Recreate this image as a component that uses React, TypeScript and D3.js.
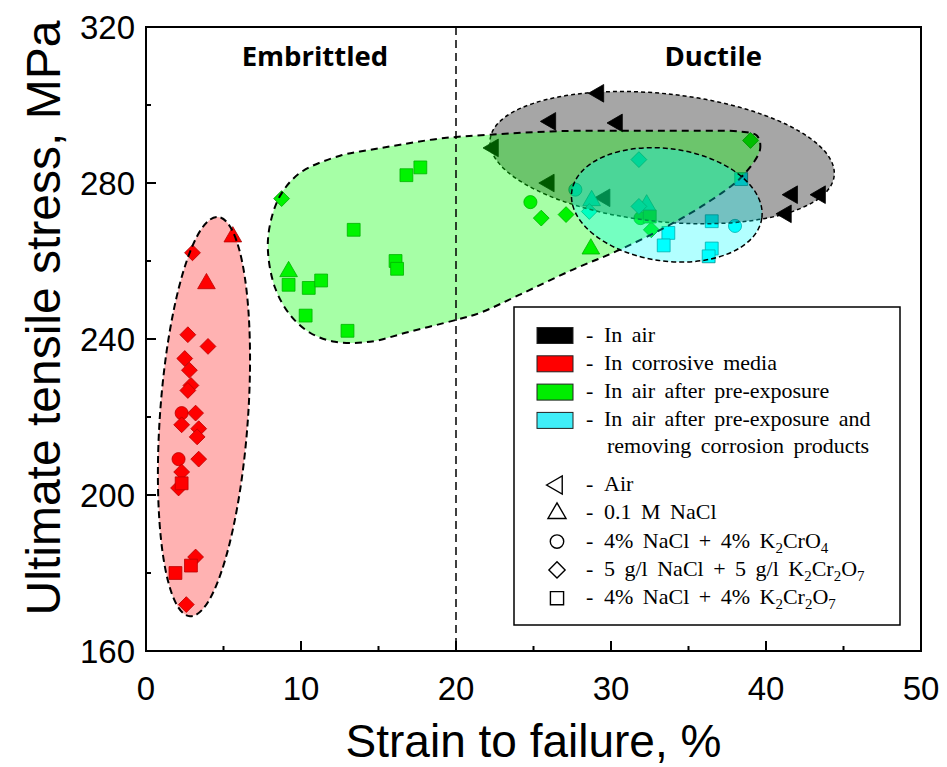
import * as d3 from 'd3';

const xTicks = [0, 10, 20, 30, 40, 50];
const yTicks = [160, 200, 240, 280, 320];

// [strain %, UTS MPa]
// In air (black)
const airAir = [
  [29.2, 303], [26.1, 295.8], [30.4, 295.4], [22.4, 289], [26.0, 280],
  [29.6, 276.2], [41.7, 277], [43.5, 277], [41.3, 272.1],
];

// In corrosive media (red)
const corrNaCl = [[5.6, 266.2], [3.9, 254.2]];
const corrCrO4 = [[2.3, 221], [2.1, 209.2]];
const corrCr2O7g = [
  [3.0, 262.1], [2.7, 241.1], [4.0, 238.1], [2.5, 235], [2.8, 232], [2.9, 228.1],
  [2.7, 226.8], [3.2, 221], [2.3, 218], [3.4, 217], [3.3, 214.9], [3.4, 209.2],
  [2.3, 205.9], [2.1, 201.8], [3.2, 184.1], [2.6, 171.9],
];
const corrCr2O7 = [[2.3, 203], [2.9, 181.9], [1.9, 180]];

// In air after pre-exposure (green)
const preNaCl = [[9.2, 257.3], [28.7, 263.1]];
const preCrO4 = [[24.8, 275.1], [31.9, 271]];
const preCr2O7g = [[8.75, 276], [25.5, 271], [27.1, 271.9], [32.6, 268], [39.0, 290.9]];
const preCr2O7 = [
  [16.8, 282], [17.7, 284], [13.4, 268], [16.1, 260], [16.2, 258], [9.2, 253.9],
  [10.5, 253.1], [11.3, 255], [10.3, 246], [13.0, 242.1], [32.5, 271.4],
];

// After removing corrosion products (cyan)
const remNaCl = [[28.75, 275.5], [32.3, 274.4]];
const remCrO4 = [[27.7, 278.3], [38.0, 269]];
const remCr2O7g = [[28.6, 272.7], [31.8, 286], [31.8, 274]];
const remCr2O7 = [[38.4, 281], [36.5, 270.2], [33.7, 267.2], [33.4, 264], [36.5, 263.2], [36.3, 261.2]];

// outlined regions
const redZone = { cx: 3.74, cy: 220.1, rx: 2.84, ry: 51.3, rot: 4 };
const grayZone = { cx: 33.3, cy: 286.5, rx: 11.16, ry: 16.4, rot: 6 };
const cyanZone = { cx: 33.6, cy: 274.4, rx: 6.19, ry: 14.4, rot: 8 };
const greenZone = [
  [38.43, 281.6], [39.61, 288.5], [39.42, 292.1], [38.32, 293.2], [35.74, 293.4],
  [31.87, 293.4], [26.71, 293.3], [22.19, 292.4], [18.97, 291.4], [16.39, 289.8],
  [14.45, 288.5], [12.52, 287.0], [9.94, 282.6], [8.65, 276.7], [8.0, 269.3],
  [7.87, 262.4], [8.32, 253.2], [9.29, 246.2], [10.58, 241.6], [12.19, 239.3],
  [14.45, 239.3], [17.03, 241.9], [20.0, 244.9], [21.55, 246.7], [24.13, 251.4],
  [27.55, 257.8], [30.58, 262.9], [33.81, 269.3], [36.39, 275.4],
];

const stateLabels = ['In air', 'In corrosive media', 'In air after pre-exposure', 'In air after pre-exposure and'];
const stateColors = ['#000000', '#ff0000', '#00ee00', '#40eef8'];
const envLabels = ['Air', '0.1 M NaCl', '4% NaCl + 4% K_2CrO_4', '5 g/l NaCl + 5 g/l K_2Cr_2O_7', '4% NaCl + 4% K_2Cr_2O_7'];
const envShapes = ['left', 'up', 'circle', 'diamond', 'square'];

const margin = { top: 27, right: 26, bottom: 116, left: 146 };
const width = 947;
const height = 767;

function shapePath(shape: string, scale = 1) {
  if (shape === 'left' || shape === 'up') return d3.symbol(d3.symbolTriangle, 135 * scale)()!;
  if (shape === 'circle') return d3.symbol(d3.symbolCircle, 135 * scale)()!;
  if (shape === 'diamond') return d3.symbol(d3.symbolSquare, 125 * scale)()!;
  return d3.symbol(d3.symbolSquare, 165 * scale)()!;
}
function shapeRot(shape: string) {
  if (shape === 'left') return -90;
  if (shape === 'diamond') return 45;
  return 0;
}

function sub(s: string) {
  const parts = s.split(/_(\d)/);
  return parts.map((p, i) =>
    i % 2 ? (
      <tspan key={i} dy={5} fontSize={15}>{p}</tspan>
    ) : (
      <tspan key={i} dy={i > 0 ? -5 : 0}>{p}</tspan>
    )
  );
}

export default function App() {
  const x = d3.scaleLinear().domain([0, 50]).range([margin.left, width - margin.right]);
  const y = d3.scaleLinear().domain([160, 320]).range([height - margin.bottom, margin.top]);

  const series = [
    { pts: airAir, shape: 'left', fill: '#000', stroke: '#000' },
    { pts: corrNaCl, shape: 'up', fill: '#ff0000', stroke: '#a00000' },
    { pts: corrCrO4, shape: 'circle', fill: '#ff0000', stroke: '#a00000' },
    { pts: corrCr2O7g, shape: 'diamond', fill: '#ff0000', stroke: '#a00000' },
    { pts: corrCr2O7, shape: 'square', fill: '#ff0000', stroke: '#a00000' },
    { pts: preNaCl, shape: 'up', fill: '#00ee00', stroke: '#008a00' },
    { pts: preCrO4, shape: 'circle', fill: '#00ee00', stroke: '#008a00' },
    { pts: preCr2O7g, shape: 'diamond', fill: '#00ee00', stroke: '#008a00' },
    { pts: preCr2O7, shape: 'square', fill: '#00ee00', stroke: '#008a00' },
    { pts: remNaCl, shape: 'up', fill: '#00ffff', stroke: '#008b8b' },
    { pts: remCrO4, shape: 'circle', fill: '#00ffff', stroke: '#008b8b' },
    { pts: remCr2O7g, shape: 'diamond', fill: '#00ffff', stroke: '#008b8b' },
    { pts: remCr2O7, shape: 'square', fill: '#00ffff', stroke: '#008b8b' },
  ];

  const ellipse = (z: typeof redZone, fill: string, sw: number, dash: string) => {
    const cx = x(z.cx);
    const cy = y(z.cy);
    return (
      <ellipse
        cx={cx}
        cy={cy}
        rx={x(z.cx + z.rx) - cx}
        ry={cy - y(z.cy + z.ry)}
        transform={`rotate(${z.rot},${cx},${cy})`}
        fill={fill}
        stroke="#000"
        strokeWidth={sw}
        strokeDasharray={dash}
      />
    );
  };

  const blob = d3
    .line<number[]>()
    .x(d => x(d[0]))
    .y(d => y(d[1]))
    .curve(d3.curveCatmullRomClosed.alpha(0.5))(greenZone)!;

  const x0 = margin.left;
  const x1 = width - margin.right;
  const y0 = margin.top;
  const y1 = height - margin.bottom;

  // legend geometry
  const lg = { x: 514, y: 307, w: 386, h: 318 };

  return (
    <svg width={width} height={height} style={{ position: 'absolute', left: 0, top: 0 }}>
      <rect width={width} height={height} fill="#fff" />

      {/* markers */}
      {series.map((s, si) => (
        <g key={si}>
          {s.pts.map((p, i) => (
            <path
              key={i}
              d={shapePath(s.shape)}
              transform={`translate(${x(p[0])},${y(p[1])}) rotate(${shapeRot(s.shape)})`}
              fill={s.fill}
              stroke={s.stroke}
              strokeWidth={0.8}
            />
          ))}
        </g>
      ))}

      {/* regions */}
      {ellipse(redZone, 'rgba(255,0,0,0.3)', 2, '7,4')}
      {ellipse(grayZone, 'rgba(0,0,0,0.35)', 1.5, '4,3')}
      <path d={blob} fill="rgba(0,255,0,0.35)" stroke="#000" strokeWidth={2} strokeDasharray="7,5" />
      {ellipse(cyanZone, 'rgba(0,255,255,0.3)', 1.5, '5,3')}

      {/* divider */}
      <line x1={x(20)} x2={x(20)} y1={y0} y2={y1} stroke="#000" strokeWidth={1.5} strokeDasharray="8,5" />
      <text x={x(10.9)} y={66} textAnchor="middle" fontFamily="Open Sans" fontWeight="bold" fontSize={27.5}>Embrittled</text>
      <text x={x(36.6)} y={66} textAnchor="middle" fontFamily="Open Sans" fontWeight="bold" fontSize={27.5}>Ductile</text>

      {/* frame */}
      <rect x={x0} y={y0} width={x1 - x0} height={y1 - y0} fill="none" stroke="#000" strokeWidth={2} />

      {/* x axis */}
      {d3.range(0, 51, 5).map(t => (
        <line key={t} x1={x(t)} x2={x(t)} y1={y1} y2={y1 - (t % 10 === 0 ? 10 : 5)} stroke="#000" strokeWidth={2} />
      ))}
      {xTicks.map(t => (
        <text key={t} x={x(t)} y={700} textAnchor="middle" fontFamily="Liberation Sans, Arial" fontSize={33}>{t}</text>
      ))}
      <text x={(x0 + x1) / 2} y={757} textAnchor="middle" fontFamily="Liberation Sans, Arial" fontSize={46}>
        Strain to failure, %
      </text>

      {/* y axis */}
      {d3.range(160, 321, 20).map(t => (
        <line key={t} x1={x0} x2={x0 + (t % 40 === 0 ? 10 : 5)} y1={y(t)} y2={y(t)} stroke="#000" strokeWidth={2} />
      ))}
      {yTicks.map(t => (
        <text key={t} x={135} y={y(t)} dy="0.36em" textAnchor="end" fontFamily="Liberation Sans, Arial" fontSize={33}>{t}</text>
      ))}
      <text
        transform={`translate(60,318) rotate(-90)`}
        textAnchor="middle"
        fontFamily="Liberation Sans, Arial"
        fontSize={48}
      >
        Ultimate tensile stress, MPa
      </text>

      {/* legend */}
      <rect x={lg.x} y={lg.y} width={lg.w} height={lg.h} fill="#fff" stroke="#000" strokeWidth={1.5} />
      <g fontFamily="Liberation Serif, Times New Roman" fontSize={22} wordSpacing={4}>
        {stateLabels.map((l, i) => {
          const cy = 335.5 + i * 28.3;
          return (
            <g key={l}>
              <rect x={537} y={cy - 8} width={36} height={16} fill={stateColors[i]} stroke="#222" strokeWidth={1} />
              <text x={586} y={cy + 6}>-</text>
              <text x={604} y={cy + 6}>{l}</text>
            </g>
          );
        })}
        <text x={607} y={335.5 + 4 * 28.3 + 4}>removing corrosion products</text>
        {envLabels.map((l, i) => {
          const cy = 485 + i * 28.3;
          const sh = envShapes[i];
          return (
            <g key={l}>
              <path
                d={shapePath(sh, 1.05)}
                transform={`translate(557,${cy}) rotate(${shapeRot(sh)})`}
                fill="none"
                stroke="#000"
                strokeWidth={1.4}
              />
              <text x={586} y={cy + 6}>-</text>
              <text x={604} y={cy + 6}>{sub(l)}</text>
            </g>
          );
        })}
      </g>
    </svg>
  );
}
